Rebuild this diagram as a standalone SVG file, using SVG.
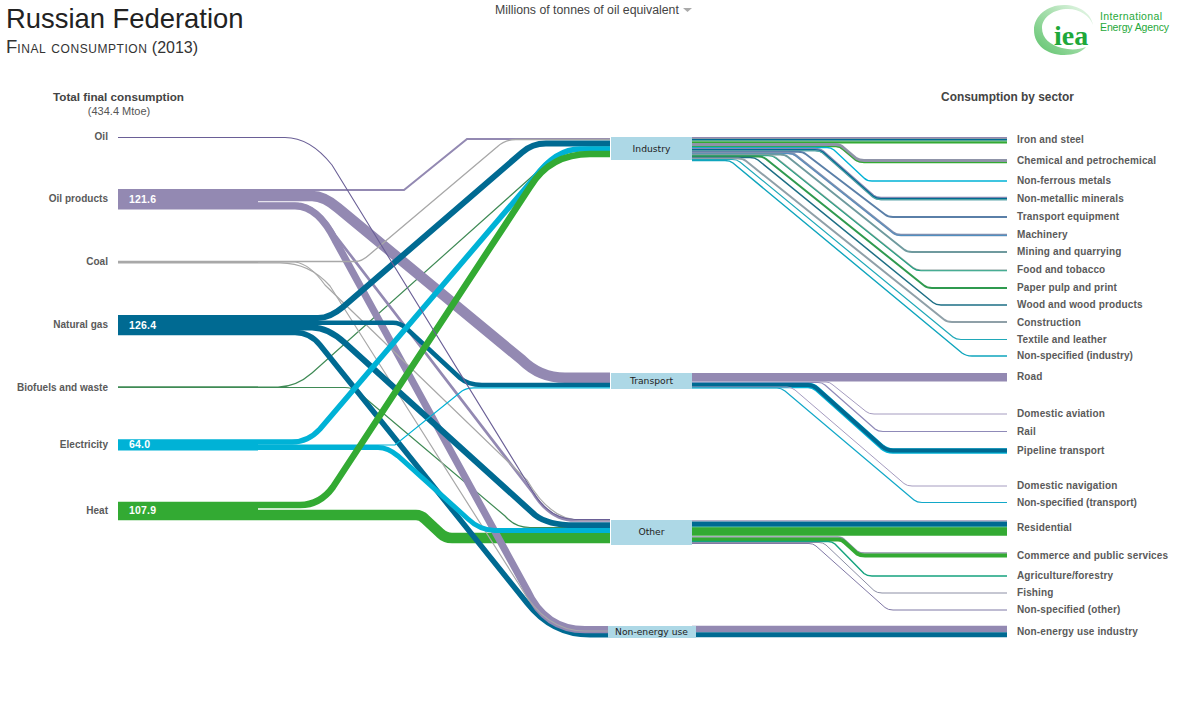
<svg xmlns="http://www.w3.org/2000/svg" width="1181" height="701" viewBox="0 0 1181 701">
<style>
text{font-family:"Liberation Sans",Arial,sans-serif}
.lb{font-size:10px;font-weight:bold;fill:#5a5a5a;letter-spacing:.14px}
.ll{font-size:10px;font-weight:bold;fill:#5a5a5a;text-anchor:end;letter-spacing:.03px}
.val{font-size:10.5px;font-weight:bold;fill:#fff;letter-spacing:.2px}
.hd{font-size:11.7px;font-weight:bold;fill:#444;text-anchor:middle}
.box{fill:#add8e6}
.bl{font-family:"DejaVu Sans",sans-serif;font-size:9.2px;fill:#222;text-anchor:middle}
.conn path{fill:none}
.oil{stroke:#6a5f96}.opr{stroke:#9389b2}.gas{stroke:#006a92}.coal{stroke:#a8a8a8}.bio{stroke:#3f8a55}.el{stroke:#00b2d6}.heat{stroke:#33aa33}
</style>
<defs>
<linearGradient id="logoG" x1="0" y1="1" x2="1" y2="0"><stop offset="0" stop-color="#5cc26a"/><stop offset=".55" stop-color="#a8dfae"/><stop offset="1" stop-color="#f2fbf3"/></linearGradient>
</defs>
<rect width="1181" height="701" fill="#fff"/>
<text x="6" y="28" font-size="27.4" fill="#222">Russian Federation</text>
<text x="6" y="53" fill="#333"><tspan font-size="18.500">F</tspan><tspan font-size="16.500" letter-spacing=".55" style="font-variant:small-caps">inal consumption</tspan><tspan font-size="16"> (2013)</tspan></text>
<text x="495" y="14" font-size="12.300" fill="#444">Millions of tonnes of oil equivalent</text>
<polygon points="683,8 692,8 687.5,12" fill="#aaa"/>
<g id="logo">
<path d="M1064 5C1047 5 1034 16 1034 30C1034 45 1047 55 1064 55C1074 55 1082 52 1086 47C1078 50 1070 50 1062 48C1050 45 1042 38 1042 28C1042 17 1054 9 1068 9C1080 9 1090 16 1093 25C1091 13 1079 5 1064 5Z" fill="url(#logoG)"/>
<text x="1054" y="45" font-size="28" font-weight="bold" fill="#1fa83a" style="font-family:'Liberation Serif',serif">iea</text>
<text x="1100" y="20" font-size="10.500" fill="#1fa83a" textLength="62">International</text>
<text x="1100" y="30.500" font-size="10.500" fill="#1fa83a" textLength="69">Energy Agency</text>
</g>
<text class="hd" x="118.500" y="101">Total final consumption</text>
<text x="119" y="115" font-size="11" fill="#555" text-anchor="middle">(434.4 Mtoe)</text>
<text class="hd" x="1007.500" y="101" style="font-size:11.9px">Consumption by sector</text>

<g id="connectors" class="conn">
<path class="heat" stroke-width="10.500" d="M118 515H416Q421 515 425 519L440 533Q445 538 452 538H610"/>
<path class="bio" stroke-width="1.200" d="M118 387.500H345Q352 387.500 358 392L505 516Q515 527.500 530 527.500H610"/>
<path class="bio" stroke-width="1.200" d="M118 387H278Q296 387 312 373L537 172Q555 147 590 147H610"/>
<path class="opr" stroke-width="2" d="M118 190H404L467 139H610"/>
<path class="gas" stroke-width="5.500" d="M118 332.500H295Q310 332.500 320 345L527 603Q552 634.800 590 634.800H610"/>
<path class="opr" stroke-width="10.500" d="M118 196H312Q324 196 338 208L522 360Q540 377.800 565 377.800H610"/>
<path class="opr" stroke-width="2.700" d="M118 204H298Q318 206 335 235L533 493Q550 520.500 575 520.500H610"/>
<path class="opr" stroke-width="7.200" d="M118 205.800H295Q318 205.800 335 240L527 590Q545 629.700 585 629.700H610"/>
<path class="coal" stroke-width="1.300" d="M118 261.500H355Q362 261.500 369 255L497 147Q505 139.500 516 139.500H610"/>
<path class="coal" stroke-width="1.200" d="M118 262H295Q310 264 325 285L527 480Q550 520 580 520H610"/>
<path class="coal" stroke-width="1.200" d="M118 262.800H280Q310 263 330 286L520 586Q545 631 585 631H610"/>
<path class="gas" stroke-width="6" d="M118 327.500H312Q328 327.500 345 343L535 515Q548 525.200 575 525.200H610"/>
<path class="gas" stroke-width="4.500" d="M118 322.700H393Q400 322.700 406 328L460 378Q468 385 482 385H610"/>
<path class="gas" stroke-width="6" d="M118 318H318Q330 318 343 307L522 152.500Q532 143.500 546 143.500H610"/>
<path class="el" stroke-width="5" d="M118 447.500H378Q388 447.500 398 456L468 519Q480 530.400 495 530.400H610"/>
<path class="el" stroke-width="1.200" d="M118 445H395L462 391Q467 387.800 474 387.800H610"/>
<path class="el" stroke-width="5.500" d="M118 442H292Q308 442 320 429L535 177Q556 149 580 149H610"/>
<path class="heat" stroke-width="6.500" d="M118 505H300Q320 505 333 487L530 187Q550 154 590 154H610"/>
<path class="oil" stroke-width="1.100" d="M118 137.500H285Q310 137.500 332 165L533 492Q550 519.500 575 519.500H610"/>

<!-- industry sectors -->
<path stroke="#9389b2" stroke-width="1" d="M692 137.500H1007"/>
<path stroke="#909aa8" stroke-width="1" d="M692 138.500H1007"/>
<path stroke="#006a92" stroke-width="1.600" d="M692 139.800H1007"/>
<path stroke="#2f9a6a" stroke-width="1" d="M692 141H1007"/>
<path stroke="#33aa33" stroke-width="2.200" d="M692 142.500H1007"/>
<path stroke="#8f94a8" stroke-width="4" d="M692 145H836Q840 145 843 148L856 159Q859 161 864 161H1007"/>
<path stroke="#33aa33" stroke-width="1.200" d="M692 146.600H836Q840 146.600 843 149.600L856 160.600Q859 162.600 864 162.600H1007"/>
<path stroke="#00b2d6" stroke-width="1.400" d="M692 147.500H827Q831 147.500 834 150L864 178Q867 181 872 181H1007"/>
<path stroke="#8389b2" stroke-width="3.500" d="M692 149.500H815Q820 149.500 823 152L873 196Q876 198.500 881 198.500H1007"/>
<path stroke="#006a92" stroke-width="1.200" d="M692 149.500H815Q820 149.500 823 152L873 196Q876 198.500 881 198.500H1007"/>
<path stroke="#3fb0a0" stroke-width="1" d="M692 150.800H815Q820 150.800 823 153.300L873 197.300Q876 199.800 881 199.800H1007"/>
<path stroke="#5a7fa8" stroke-width="1.900" d="M692 151.700H798Q803 151.700 806 154.200L885 214.500Q888 217 893 217H1007"/>
<path stroke="#7f8fb0" stroke-width="2.300" d="M692 153H788Q793 153 796 155.500L893 232.500Q896 235 901 235H1007"/>
<path stroke="#4f90c0" stroke-width="1" d="M692 153.500H788Q793 153.500 796 156L893 233Q896 235.500 901 235.500H1007"/>
<path stroke="#6f9a9e" stroke-width="1.900" d="M692 154.500H780Q785 154.500 788 157L904 249.500Q907 252 912 252H1007"/>
<path stroke="#8ea29f" stroke-width="1.200" d="M692 155H768Q773 155 776 157.500L913 267.500Q916 270 921 270H1007"/>
<path stroke="#1fa080" stroke-width="1.100" d="M692 155.800H768Q773 155.800 776 158.300L913 268.300Q916 270.800 921 270.800H1007"/>
<path stroke="#2f9a4f" stroke-width="2" d="M692 156.500H758Q763 156.500 766 159L924 285.500Q927 288 932 288H1007"/>
<path stroke="#1d6f85" stroke-width="1.500" d="M692 157.500H750Q755 157.500 758 160L933 302.500Q936 305 941 305H1007"/>
<path stroke="#8fa0a8" stroke-width="2" d="M692 158.500H738Q743 158.500 746 161L944 319.500Q947 322 952 322H1007"/>
<path stroke="#20a8b8" stroke-width="1.200" d="M692 159.500H732Q737 159.500 740 162L953 337Q956 339.500 961 339.500H1007"/>
<path stroke="#0fa5bd" stroke-width="1.400" d="M692 160.500H725Q730 160.500 733 163L962 353Q966 356 972 356H1007"/>

<!-- transport sectors -->
<path stroke="#a59cc0" stroke-width="1" d="M692 382H826Q830 382 833 385L866 411.500Q869 414 874 414H1007"/>
<path stroke="#8f8ab8" stroke-width="1.200" d="M692 382.500H818Q822 382.500 825 385L875 429Q878 431.500 883 431.500H1007"/>
<path stroke="#00b2d6" stroke-width="5.500" d="M692 385.500H808Q813 385.500 817 389L882 447Q887 451 893 451H1007"/>
<path stroke="#006a92" stroke-width="4" d="M692 385H808Q813 385 817 388.500L882 446.500Q887 450.500 893 450.500H1007"/>
<path stroke="#a59cc0" stroke-width="1" d="M692 387H787Q791 387 795 390L904 483.500Q907 486 912 486H1007"/>
<path stroke="#12a8c8" stroke-width="1.200" d="M692 388H777Q781 388 785 391L914 500Q917 502.500 922 502.500H1007"/>
<path class="opr" stroke-width="8.500" d="M692 377.200H1007"/>

<!-- other sectors -->
<path stroke="#b5afc9" stroke-width="1.500" d="M692 520.700H1007"/>
<path stroke="#006a92" stroke-width="4.500" d="M692 523.700H1007"/>
<path stroke="#2b9aa0" stroke-width="1.500" d="M692 526.700H1007"/>
<path stroke="#33aa33" stroke-width="8.500" d="M692 531.500H1007"/>
<path stroke="#8f94a8" stroke-width="1.500" d="M692 537H838Q842 537 845 540L857 551Q860 553 865 553H1007"/>
<path stroke="#33aa33" stroke-width="4" d="M692 539.500H838Q842 539.500 845 542.500L857 553.500Q860 555.500 865 555.500H1007"/>
<path stroke="#16a37f" stroke-width="1.500" d="M692 541.500H828Q832 541.500 835 544L864 573.500Q867 576 872 576H1007"/>
<path stroke="#8c8fa5" stroke-width="1" d="M692 542.500H819Q823 542.500 826 545L874 590.500Q877 593 882 593H1007"/>
<path stroke="#7f78a5" stroke-width="1" d="M692 543.500H809Q813 543.500 816 546L885 607.500Q888 610 893 610H1007"/>

<!-- non-energy -->
<path class="opr" stroke-width="6.500" d="M692 629H1007"/>
<path class="gas" stroke-width="5" d="M692 634.700H1007"/>
</g>

<g id="n-oil"><rect x="118" y="137" width="140" height="1" fill="#6a5f96"/><text class="ll" x="108" y="140">Oil</text></g>
<g id="n-oilproducts"><rect x="118" y="189" width="140" height="20" fill="#9389b2"/><text class="ll" x="108" y="202">Oil products</text><text class="val" x="129" y="203">121.6</text></g>
<g id="n-coal"><rect x="118" y="261" width="140" height="2" fill="#a8a8a8"/><text class="ll" x="108" y="265">Coal</text></g>
<g id="n-gas"><rect x="118" y="315" width="140" height="20" fill="#006a92"/><text class="ll" x="108" y="328">Natural gas</text><text class="val" x="129" y="329">126.4</text></g>
<g id="n-bio"><rect x="118" y="386.500" width="140" height="1.500" fill="#3f8a55"/><text class="ll" x="108" y="391">Biofuels and waste</text></g>
<g id="n-elec"><rect x="118" y="440" width="140" height="10.500" fill="#00b2d6"/><text class="ll" x="108" y="448">Electricity</text><text class="val" x="129" y="448">64.0</text></g>
<g id="n-heat"><rect x="118" y="502" width="140" height="18" fill="#33aa33"/><text class="ll" x="108" y="514">Heat</text><text class="val" x="129" y="514">107.9</text></g>

<g id="n-industry"><rect class="box" x="611" y="137" width="81" height="23"/><text class="bl" x="651.500" y="152">Industry</text></g>
<g id="n-transport"><rect class="box" x="611" y="373" width="81" height="16"/><text class="bl" x="651.500" y="384">Transport</text></g>
<g id="n-other"><rect class="box" x="611" y="520" width="81" height="25"/><text class="bl" x="651.500" y="535">Other</text></g>
<g id="n-nonenergy"><rect class="box" x="608" y="626" width="88" height="12"/><text class="bl" x="651.500" y="635">Non-energy use</text></g>

<g id="sector-labels">
<text class="lb" x="1017" y="143">Iron and steel</text>
<text class="lb" x="1017" y="164">Chemical and petrochemical</text>
<text class="lb" x="1017" y="184">Non-ferrous metals</text>
<text class="lb" x="1017" y="202">Non-metallic minerals</text>
<text class="lb" x="1017" y="220">Transport equipment</text>
<text class="lb" x="1017" y="238">Machinery</text>
<text class="lb" x="1017" y="255">Mining and quarrying</text>
<text class="lb" x="1017" y="273">Food and tobacco</text>
<text class="lb" x="1017" y="291">Paper pulp and print</text>
<text class="lb" x="1017" y="308">Wood and wood products</text>
<text class="lb" x="1017" y="326">Construction</text>
<text class="lb" x="1017" y="343">Textile and leather</text>
<text class="lb" x="1017" y="359" textLength="116">Non-specified (industry)</text>
<text class="lb" x="1017" y="380">Road</text>
<text class="lb" x="1017" y="417">Domestic aviation</text>
<text class="lb" x="1017" y="435">Rail</text>
<text class="lb" x="1017" y="454">Pipeline transport</text>
<text class="lb" x="1017" y="489">Domestic navigation</text>
<text class="lb" x="1017" y="506" textLength="120">Non-specified (transport)</text>
<text class="lb" x="1017" y="531">Residential</text>
<text class="lb" x="1017" y="559">Commerce and public services</text>
<text class="lb" x="1017" y="579">Agriculture/forestry</text>
<text class="lb" x="1017" y="596">Fishing</text>
<text class="lb" x="1017" y="613">Non-specified (other)</text>
<text class="lb" x="1017" y="635">Non-energy use industry</text>
</g>
</svg>
